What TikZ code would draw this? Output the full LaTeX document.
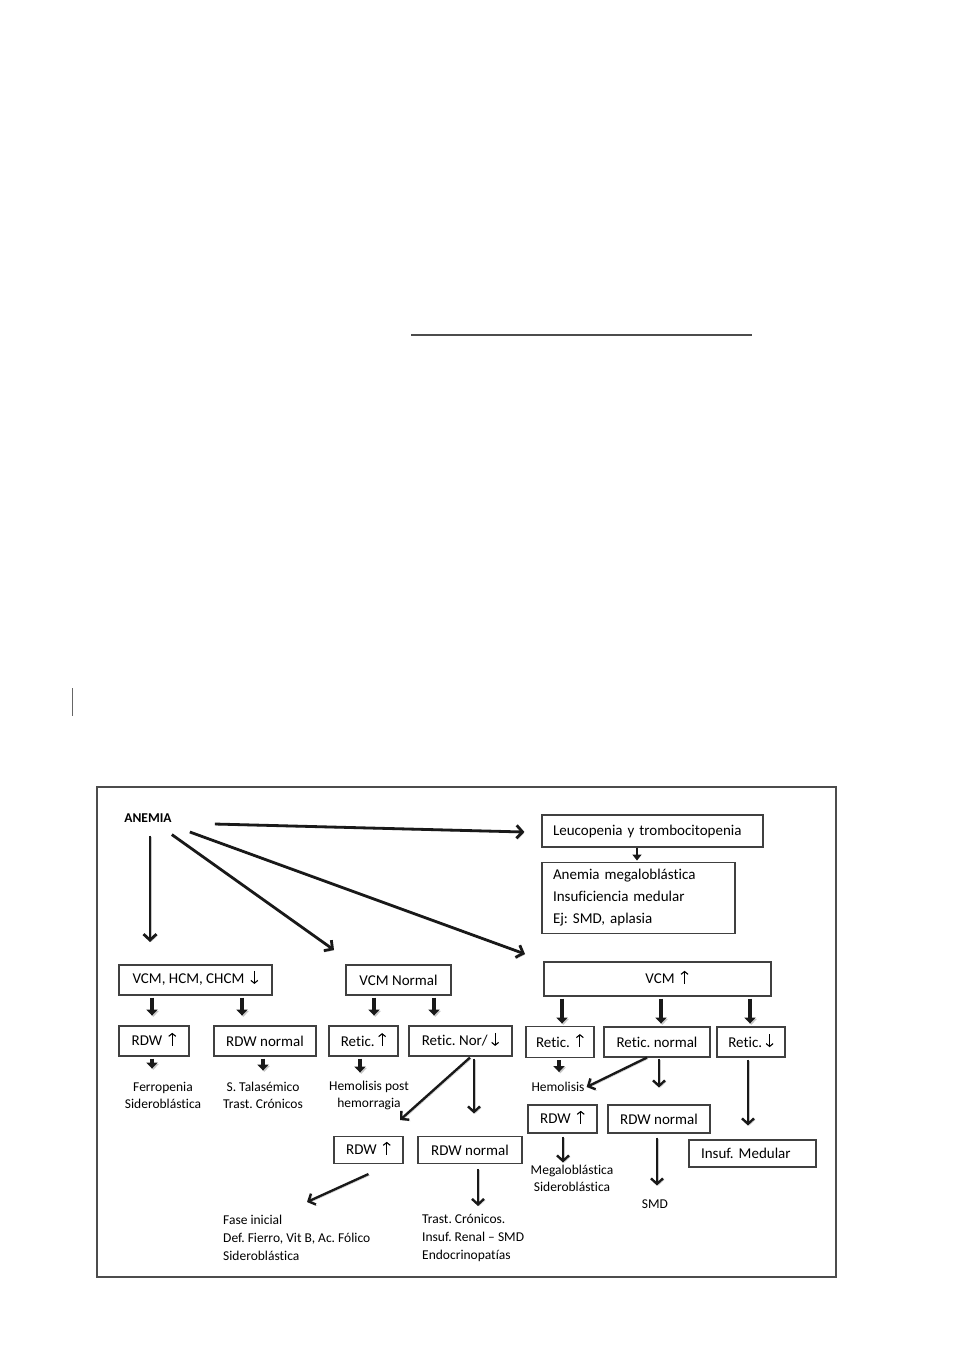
\documentclass[tikz,border=0pt]{standalone}
\usepackage{fontspec}
\setmainfont{Carlito}[Ligatures=NoCommon]
\usetikzlibrary{arrows.meta}
\newcommand{\uarr}{\raisebox{0pt}[0pt][0pt]{\tikz[baseline=-1.5pt]\draw[line width=1.1pt,black,-{Straight Barb[length=2.8pt,width=7pt]}] (0pt,-1.5pt) -- (0pt,11.5pt);}}
\newcommand{\darr}{\raisebox{0pt}[0pt][0pt]{\tikz[baseline=-1.5pt]\draw[line width=1.1pt,black,-{Straight Barb[length=2.8pt,width=7pt]}] (0pt,11.5pt) -- (0pt,-1.5pt);}}
\begin{document}
\frenchspacing
\begin{tikzpicture}[x=1pt,y=-1pt,
  box/.style={draw=black!75,line width=1.1pt,inner sep=0pt,text=black,font=\fontsize{15}{18}\selectfont},
  lbl/.style={inner sep=0pt,text=black,font=\fontsize{13.5}{17}\selectfont,align=center},
  shd/.style={preaction={draw=black!22,transform canvas={shift={(1.3pt,-1.3pt)}}}},
  big/.style={shd,draw=black!90,line width=2.8pt,-{Straight Barb[length=6pt,width=13pt]}},
  med/.style={shd,draw=black!90,line width=2.4pt,-{Straight Barb[length=5.5pt,width=12pt]}},
  blk/.style={shd,draw=black!90,line width=4.5pt,-{Triangle[length=6pt,width=11pt]}},
  sml/.style={draw=black!90,line width=2pt,-{Triangle[length=6pt,width=9pt]}},
]
\useasboundingbox (0,0) rectangle (968,1366);
% stray page lines
\draw[black!70,line width=1.4pt] (411,335) -- (752,335);
\draw[black!60,line width=0.8pt] (72,688) -- (72,716);
% frame
\draw[black!70,line width=1.1pt] (97,787) rectangle (836,1277);

% nodes
\node[inner sep=0pt,text=black,font=\fontsize{13.5}{16}\selectfont\bfseries] (anemia) at (148,818) {ANEMIA};
\node[box,minimum width=221pt,minimum height=32pt,text width=199pt,inner xsep=11pt,align=left] (leuc) at (652.5,831) {Leucopenia y trombocitopenia};
\node[box,minimum width=193pt,minimum height=71pt,text width=171pt,inner xsep=11pt,align=left,font=\fontsize{15}{22}\selectfont] (anem) at (638.5,898) {Anemia megaloblástica\\Insuficiencia medular\\Ej: SMD, aplasia};

\node[box,minimum width=153pt,minimum height=30pt] (vcmlow) at (195.5,980) {VCM, HCM, CHCM \,\darr};
\node[box,minimum width=105pt,minimum height=30pt] (vcmnorm) at (398.5,980) {VCM Normal};
\node[box,minimum width=227pt,minimum height=34pt] (vcmhigh) at (657.5,979) {\hspace*{19pt}VCM \,\uarr};

\node[box,minimum width=70pt,minimum height=30pt] (rdw1) at (154,1041) {RDW \,\uarr};
\node[box,minimum width=102pt,minimum height=30pt] (rdwn1) at (265,1041) {RDW normal};
\node[box,minimum width=69pt,minimum height=30pt] (reticup1) at (363.5,1041) {Retic. \uarr};
\node[box,minimum width=103pt,minimum height=30pt] (reticnor) at (460.5,1041) {Retic. Nor/ \darr};
\node[box,minimum width=68pt,minimum height=31pt] (reticup2) at (560,1042) {Retic. \,\uarr};
\node[box,minimum width=106pt,minimum height=30pt] (reticnormal) at (657,1042) {Retic. normal};
\node[box,minimum width=68pt,minimum height=30pt] (reticdown) at (751,1042) {Retic. \darr};

\node[lbl] (ferro) at (163,1095.5) {Ferropenia\\Sideroblástica};
\node[lbl] (tala) at (263,1095.5) {S. Talasémico\\Trast. Crónicos};
\node[lbl] (hemo1) at (369,1095.5) {Hemolisis post\\hemorragia};
\node[lbl] (hemo2) at (558,1087) {Hemolisis};

\node[box,minimum width=69pt,minimum height=28pt] (rdw3) at (562.5,1119) {RDW \,\uarr};
\node[box,minimum width=102pt,minimum height=28pt] (rdwn3) at (659,1119) {RDW normal};
\node[box,minimum width=127pt,minimum height=27pt,text width=103pt,inner xsep=12pt,align=left] (insuf) at (752.5,1153.5) {Insuf. Medular};

\node[box,minimum width=69pt,minimum height=27pt] (rdw2) at (368.5,1150) {RDW \,\uarr};
\node[box,minimum width=104pt,minimum height=27pt] (rdwn2) at (470,1150) {RDW normal};

\node[lbl] (mega) at (572,1178) {Megaloblástica\\Sideroblástica};
\node[lbl] (smd) at (655,1204) {SMD};
\node[lbl,align=left,anchor=west,font=\fontsize{13.5}{18}\selectfont] (fase) at (223,1238) {Fase inicial\\Def. Fierro, Vit B, Ac. Fólico\\Sideroblástica};
\node[lbl,align=left,anchor=west,font=\fontsize{13.5}{18}\selectfont] (trast) at (422,1238) {Trast. Crónicos.\\Insuf. Renal -- SMD\\Endocrinopatías};

% free arrow ends
\coordinate (a1e) at (150,942);
\coordinate (a2e) at (334,950);
\coordinate (a3e) at (525,954);
\coordinate (rne) at (400,1120);
\coordinate (r2e) at (307,1202);

% arrows from ANEMIA
\draw[big] ([shift={(2,13)}]anemia.south) -- (a1e);
\draw[big] ([shift={(0,12)}]anemia.south east) -- (a2e);
\draw[big] ([shift={(18,14)}]anemia.east) -- (a3e);
\draw[big] ([shift={(43,6)}]anemia.east) -- ([shift={(-17,1)}]leuc.west);
\draw[sml] ([xshift=-15.5pt]leuc.south) -- ++(0,13);

% block arrows
\draw[blk] ([shift={(-43.5,2)}]vcmlow.south) -- ++(0,18);
\draw[blk] ([shift={(46.5,2)}]vcmlow.south) -- ++(0,18);
\draw[blk] ([shift={(-24.5,2)}]vcmnorm.south) -- ++(0,18);
\draw[blk] ([shift={(35.5,2)}]vcmnorm.south) -- ++(0,18);
\draw[blk] ([shift={(-95.5,2)}]vcmhigh.south) -- ++(0,25);
\draw[blk] ([shift={(3.5,2)}]vcmhigh.south) -- ++(0,25);
\draw[blk] ([shift={(92.5,2)}]vcmhigh.south) -- ++(0,25);
\draw[blk] ([shift={(-2,2)}]rdw1.south) -- ++(0,10);
\draw[blk] ([shift={(-2,2)}]rdwn1.south) -- ++(0,12);
\draw[blk] ([shift={(-3.5,2)}]reticup1.south) -- ++(0,14);
\draw[blk] ([shift={(-1,2)}]reticup2.south) -- ++(0,12);

% thin arrows
\draw[med] ([shift={(9.5,1)}]reticnor.south) -- (rne);
\draw[med] ([shift={(13.5,2)}]reticnor.south) -- ++(0,55);
\draw[med] ([shift={(-10,0)}]reticnormal.south) -- ([xshift=2pt]hemo2.east);
\draw[med] ([shift={(2,1)}]reticnormal.south) -- ++(0,29);
\draw[med] ([shift={(-3,2)}]reticdown.south) -- ++(0,66);
\draw[med] ([shift={(0.5,3)}]rdw3.south) -- ++(0,26);
\draw[med] ([shift={(-2,4)}]rdwn3.south) -- ++(0,48);
\draw[med] ([shift={(0,10)}]rdw2.south) -- (r2e);
\draw[med] ([shift={(8,5)}]rdwn2.south) -- ++(0,37);
\end{tikzpicture}
\end{document}
